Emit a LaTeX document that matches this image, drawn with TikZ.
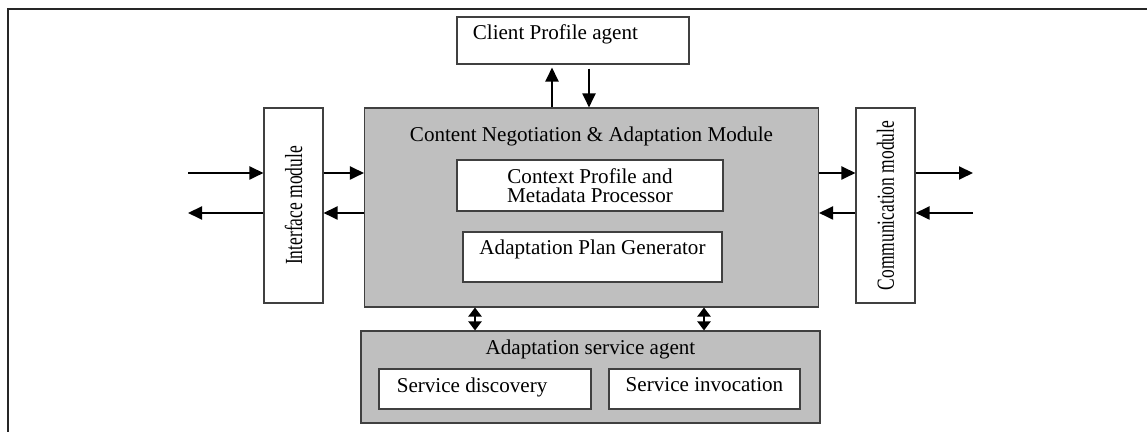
\documentclass[tikz,border=0pt]{standalone}
\usepackage{fontspec}
\setmainfont{Liberation Serif}
\usetikzlibrary{arrows.meta,positioning}

\begin{document}
\begin{tikzpicture}[
  font=\fontsize{12}{14}\selectfont,
  box/.style={draw=black!75, line width=0.6pt, fill=white, inner sep=0pt},
  panel/.style={box, fill=black!25},
  sidetext/.style={font=\fontsize{14}{16}\selectfont},
  arr/.style={-{Triangle[length=0.28cm,width=0.26cm]}, line width=1.1pt},
  dbl/.style={{Triangle[length=0.18cm,width=0.26cm]}-{Triangle[length=0.18cm,width=0.26cm]}, line width=1.2pt}
]
\useasboundingbox (0,0) rectangle (22.94,8.64);
\draw[black!85, line width=1.1pt] (0.16,0) |- (22.94,8.46);

% central module
\node[panel, minimum width=9.08cm, minimum height=3.98cm,
  label={[anchor=north, inner sep=0pt, yshift=-0.38cm]north:Content Negotiation \& Adaptation Module}] (cna) at (11.83,4.49) {};
\node[box, minimum width=5.32cm, minimum height=1.02cm, align=center,
  font=\fontsize{12}{11}\selectfont] (ctx) at (11.80,4.93) {Context Profile and\\Metadata Processor};
\node[box, minimum width=5.18cm, minimum height=1cm,
  label={[anchor=north, inner sep=0pt, yshift=-0.16cm]north:Adaptation Plan Generator}] (apg) at (11.85,3.50) {};

% side modules
\node[box, sidetext, minimum width=1.18cm, minimum height=3.9cm] (iface) at (5.87,4.53) {\rotatebox{90}{\scalebox{0.71}[1]{Interface module}}};
\node[box, sidetext, minimum width=1.18cm, minimum height=3.9cm] (comm) at (17.71,4.53) {\rotatebox{90}{\scalebox{0.71}[1]{Communication module}}};

% agents
\node[box, minimum width=4.64cm, minimum height=0.94cm,
  label={[anchor=north west, inner sep=0pt, xshift=0.32cm, yshift=-0.16cm]north west:Client Profile agent}] (client) at (11.46,7.83) {};
\node[panel, minimum width=9.18cm, minimum height=1.84cm,
  label={[anchor=north, inner sep=0pt, yshift=-0.18cm]north:Adaptation service agent}] (asa) at (11.81,1.10) {};
\node[box, minimum width=4.24cm, minimum height=0.8cm,
  label={[anchor=north west, inner sep=0pt, xshift=0.36cm, yshift=-0.18cm]north west:Service discovery}] (disc) at (9.70,0.86) {};
\node[box, minimum width=3.82cm, minimum height=0.8cm,
  label={[anchor=north, inner sep=0pt, yshift=-0.18cm]north:Service invocation}] (inv) at (14.09,0.86) {};

% free ends
\coordinate (lin) at (3.76,5.18);
\coordinate (lout) at (3.76,4.38);
\coordinate (rout) at (19.46,5.18);
\coordinate (rin) at (19.46,4.38);

% horizontal flows
\draw[arr] (lin) -- (lin -| iface.west);
\draw[arr] (lout -| iface.west) -- (lout);
\draw[arr] (lin -| iface.east) -- (lin -| cna.west);
\draw[arr] (lout -| cna.west) -- (lout -| iface.east);
\draw[arr] (lin -| cna.east) -- (lin -| comm.west);
\draw[arr] (lout -| comm.west) -- (lout -| cna.east);
\draw[arr] (lin -| comm.east) -- (rout);
\draw[arr] (rin) -- (lout -| comm.east);

% vertical flows
\draw[arr, shorten >=0.06cm] (11.04,0 |- cna.north) -- (11.04,0 |- client.south);
\draw[arr, shorten <=0.08cm] (11.78,0 |- client.south) -- (11.78,0 |- cna.north);
\draw[dbl] (9.50,0 |- cna.south) -- (9.50,0 |- asa.north);
\draw[dbl] (14.08,0 |- cna.south) -- (14.08,0 |- asa.north);
\end{tikzpicture}
\end{document}
